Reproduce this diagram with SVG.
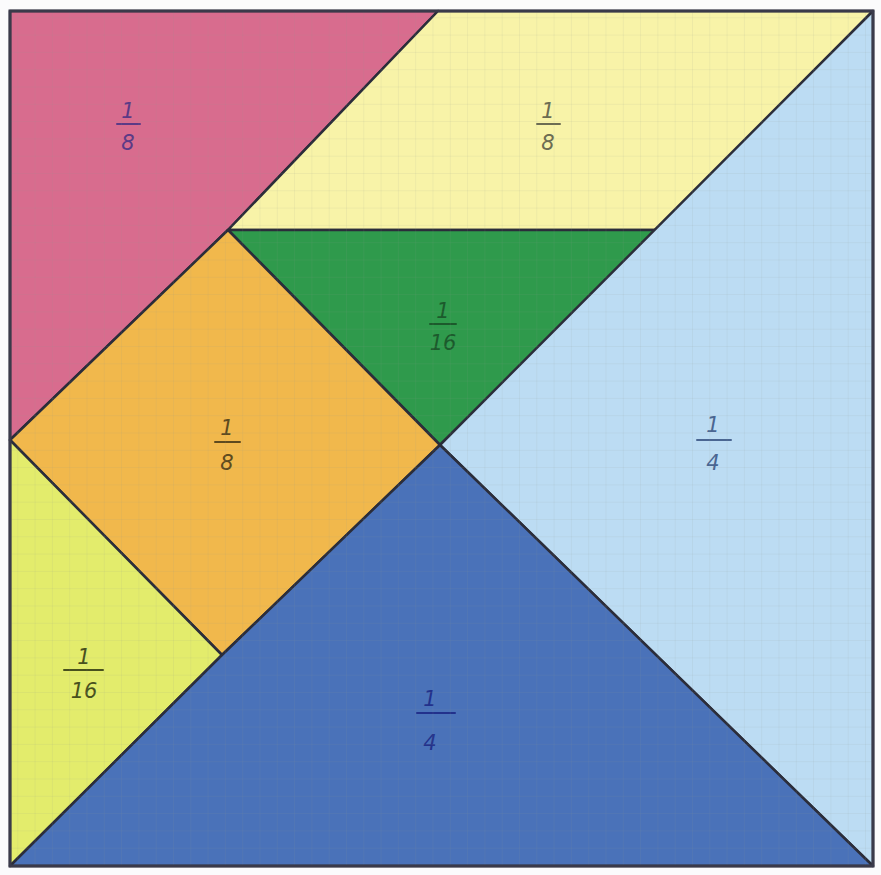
<svg xmlns="http://www.w3.org/2000/svg" width="881" height="875" viewBox="0 0 881 875">
<style>
.p{stroke:#2b2d3a;stroke-width:2.5;stroke-linejoin:round}
.t{font-family:"DejaVu Sans",sans-serif;font-style:italic;font-size:21px;text-anchor:middle}
.b{stroke-width:2;stroke-linecap:round}
</style>
<defs>
<pattern id="grid" width="17.3" height="17.3" patternUnits="userSpaceOnUse">
<path d="M0 0H17.3M0 0V17.3" fill="none" stroke="#8a9a8a" stroke-width="0.8" stroke-opacity="0.25"/>
</pattern>
</defs>
<rect width="881" height="875" fill="#fbfbfc"/>
<g id="pink"><polygon class="p" points="10,11 438,11 228,230 10,440" fill="#d86c8e"/>
<text class="t" x="128" y="118" fill="#5b3a86">1</text><line class="b" x1="117" y1="124" x2="140" y2="124" stroke="#5b3a86"/><text class="t" x="128" y="150" fill="#5b3a86">8</text></g>
<g id="yellow"><polygon class="p" points="438,11 873,11 658,230 228,230" fill="#f8f3a8"/>
<text class="t" x="548" y="118" fill="#6c6c52">1</text><line class="b" x1="537" y1="124" x2="560" y2="124" stroke="#6c6c52"/><text class="t" x="548" y="150" fill="#6c6c52">8</text></g>
<g id="green"><polygon class="p" points="228,230 658,230 440,445" fill="#2f9a4c"/>
<text class="t" x="443" y="318" fill="#1c5a2c">1</text><line class="b" x1="430" y1="324" x2="456" y2="324" stroke="#1c5a2c"/><text class="t" x="443" y="350" fill="#1c5a2c">16</text></g>
<g id="orange"><polygon class="p" points="228,230 440,445 222,655 10,440" fill="#f1b84c"/>
<text class="t" x="227" y="435" fill="#5e4a1e">1</text><line class="b" x1="215" y1="442" x2="240" y2="442" stroke="#5e4a1e"/><text class="t" x="227" y="470" fill="#5e4a1e">8</text></g>
<g id="lime"><polygon class="p" points="10,440 222,655 10,866" fill="#e3ec6c"/>
<text class="t" x="84" y="664" fill="#48501e">1</text><line class="b" x1="64" y1="670" x2="103" y2="670" stroke="#48501e"/><text class="t" x="84" y="698" fill="#48501e">16</text></g>
<g id="lightblue"><polygon class="p" points="873,11 873,866 440,445" fill="#bcdcf3"/>
<text class="t" x="713" y="432" fill="#4a6692">1</text><line class="b" x1="697" y1="440" x2="731" y2="440" stroke="#4a6692"/><text class="t" x="713" y="470" fill="#4a6692">4</text></g>
<g id="darkblue"><polygon class="p" points="10,866 222,655 440,445 873,866" fill="#4a72b9"/>
<text class="t" x="430" y="706" fill="#22318c">1</text><line class="b" x1="417" y1="713" x2="455" y2="713" stroke="#22318c"/><text class="t" x="430" y="750" fill="#22318c">4</text></g>
<rect x="10" y="11" width="863" height="855" fill="url(#grid)" pointer-events="none"/>
<rect x="10" y="11" width="863" height="855" fill="none" stroke="#3a3a4a" stroke-width="3"/>
</svg>
